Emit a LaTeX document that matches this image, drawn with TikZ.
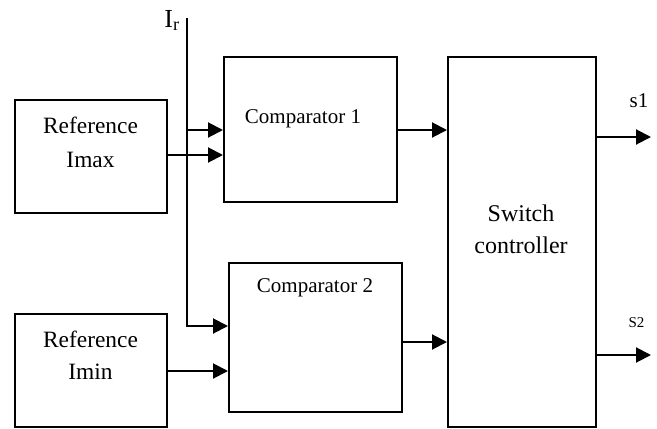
\documentclass[tikz,border=0pt]{standalone}
\usepackage{fontspec}
\setmainfont{Liberation Serif}
\usetikzlibrary{arrows.meta}
\begin{document}
\begin{tikzpicture}[x=0.5pt,y=-0.5pt,
  box/.style={draw, line width=1pt, inner sep=0pt},
  arr/.style={line width=1pt, -{Triangle[length=7.5pt,width=7.5pt]}},
  lbl/.style={inner sep=0pt, anchor=base},
  big/.style={font=\fontsize{11.7}{14}\selectfont},
  mid/.style={font=\fontsize{10.5}{12.6}\selectfont},
  sw/.style={font=\fontsize{12}{14.4}\selectfont}
]
\useasboundingbox (0,0) rectangle (657,428);
% boxes
\node[box, minimum width=76pt, minimum height=56.5pt] (imax) at (91,156.5) {};
\node[box, minimum width=86.5pt, minimum height=72.5pt] (comp1) at (310.5,129.5) {};
\node[box, minimum width=76pt, minimum height=56.5pt] (imin) at (91,370.5) {};
\node[box, minimum width=86.5pt, minimum height=74.5pt] (comp2) at (315.5,337.5) {};
\node[box, minimum width=74pt, minimum height=185pt] (switch) at (522,242) {};
% texts
\node[lbl, big] (imaxa) at (90.5,133) {Reference};
\node[lbl, big] (imaxb) at (90.5,167) {Imax};
\node[lbl, big] (imina) at (90.5,347) {Reference};
\node[lbl, big] (iminb) at (90.5,379) {Imin};
\node[lbl, mid] (comp1t) at (303,123) {Comparator 1};
\node[lbl, mid] (comp2t) at (315,292) {Comparator 2};
\node[lbl, sw] (swa) at (521,221) {Switch};
\node[lbl, sw] (swb) at (521,253) {controller};
\node[lbl, font=\fontsize{13}{15}\selectfont, anchor=base west] (irl) at (164,27) {I\textsubscript{r}};
\node[lbl, mid] (s1l) at (639,107) {s1};
\node[lbl, font=\fontsize{7.5}{9}\selectfont] (s2l) at (636.5,327) {S2};
% coordinates
\coordinate (irtop) at (187,18);
\coordinate (ya) at (0,130);
\coordinate (yb) at (0,155);
\coordinate (yc) at (0,326);
\coordinate (yd) at (0,371);
\coordinate (ye) at (0,342);
\coordinate (s1end) at (651,137);
\coordinate (s2end) at (651,355);
% connectors
\draw[arr] (irtop) -- (irtop |- yc) -- (comp2.west |- yc);
\draw[arr] (irtop |- ya) -- (comp1.west |- ya);
\draw[arr] (imax.east |- yb) -- (comp1.west |- yb);
\draw[arr] (comp1.east |- ya) -- (switch.west |- ya);
\draw[arr] (imin.east |- yd) -- (comp2.west |- yd);
\draw[arr] (comp2.east |- ye) -- (switch.west |- ye);
\draw[arr] (switch.east |- s1end) -- (s1end);
\draw[arr] (switch.east |- s2end) -- (s2end);
\end{tikzpicture}
\end{document}
